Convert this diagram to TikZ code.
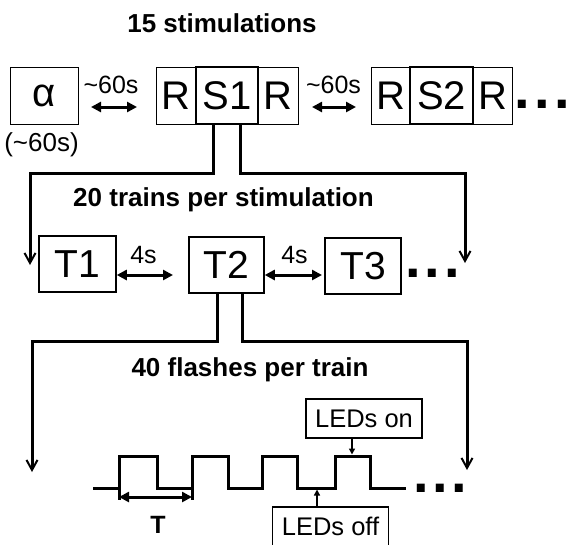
\documentclass[tikz,border=0pt]{standalone}
\usepackage{fontspec}
\setmainfont{Liberation Sans}
\usetikzlibrary{arrows.meta}
\tikzset{
  box/.style={draw, line width=1pt, inner sep=0pt, font=\fontsize{40}{44}\selectfont},
  sbox/.style={line width=1.8pt},
  tbox/.style={draw, line width=1.5pt, inner sep=0pt, minimum width=76pt, minimum height=56pt, font=\fontsize{39}{44}\selectfont},
  ledbox/.style={draw, line width=1.2pt, inner sep=0pt, minimum width=116pt, minimum height=39pt, font=\fontsize{25.5}{30}\selectfont},
  lbl/.style={inner sep=0pt, font=\fontsize{25}{30}\selectfont},
  title/.style={inner sep=0pt, font=\fontsize{26}{30}\selectfont\bfseries},
  conn/.style={line width=3pt, line join=miter},
  downarr/.style={conn, -{Straight Barb[length=10pt,width=11pt,line width=2pt]}},
  dbl/.style={line width=3pt, {Triangle[length=10pt,width=10pt]}-{Triangle[length=10pt,width=10pt]}},
  smallarr/.style={line width=1.5pt, -{Triangle[length=6pt,width=6pt]}},
  dotsnode/.style={inner sep=0pt, anchor=base west, font=\fontsize{56}{60}\selectfont\bfseries},
}
\begin{document}
\begin{tikzpicture}[x=1pt,y=-1pt]
\useasboundingbox (0,0) rectangle (569,544);

% titles
\node[title, anchor=base] (ttl1) at (222,32) {15 stimulations};
\node[title, anchor=base] (ttl2) at (223.5,206) {20 trains per stimulation};
\node[title, anchor=base] (ttl3) at (250,376) {40 flashes per train};

% top row
\node[box, minimum width=68pt, minimum height=57pt] (al) at (44,95.5) {α};
\node[lbl, font=\fontsize{26}{30}\selectfont] (l60c) at (41.5,145) {(\textasciitilde60s)};
\node[box, minimum width=40pt, minimum height=57pt] (r1) at (176,95.5) {R};
\node[box, minimum width=40pt, minimum height=57pt] (r2) at (278,95.5) {R};
\node[box, sbox, minimum width=62pt, minimum height=57pt] (s1) at (227,95.5) {S1};
\node[box, minimum width=39pt, minimum height=57pt] (r3) at (390.5,95.5) {R};
\node[box, minimum width=39pt, minimum height=57pt] (r4) at (492.5,95.5) {R};
\node[box, sbox, minimum width=63pt, minimum height=57pt] (s2) at (441.5,95.5) {S2};
\node[dotsnode] (dots1) at (514,108) {.\kern4.5pt.\kern4.5pt.};

\node[lbl, anchor=base] (l60a) at (111,93) {\textasciitilde60s};
\node[lbl, anchor=base] (l60b) at (333.5,93) {\textasciitilde60s};
\coordinate (a1s) at (91,107);
\coordinate (a1e) at (137,107);
\coordinate (a2s) at (312,107);
\coordinate (a2e) at (356,107);
\draw[dbl] (a1s) -- (a1e);
\draw[dbl] (a2s) -- (a2e);

% connectors from S1
\coordinate (s1L) at (30,265);
\coordinate (s1R) at (465,263);
\draw[downarr] ([xshift=-14pt]s1.south) -- ++(0,49) -| (s1L);
\draw[downarr] ([xshift=13pt]s1.south) -- ++(0,49) -| (s1R);

% train row
\node[tbox, minimum width=77pt] (t1) at (77.5,264) {T1};
\node[tbox, minimum width=75pt] (t2) at (226.5,265) {T2};
\node[tbox] (t3) at (363,266) {T3};
\node[dotsnode] (dots2) at (405,277) {.\kern4pt.\kern4pt.};
\node[lbl, anchor=base] (l4a) at (143.5,263) {4s};
\node[lbl, anchor=base] (l4b) at (294.5,263) {4s};
\coordinate (b1e) at (173,275);
\coordinate (b2e) at (322,275);
\draw[dbl] (t1.east |- b1e) -- (b1e);
\draw[dbl] (t2.east |- b2e) -- (b2e);

% connectors from T2
\coordinate (t2L) at (32,472);
\coordinate (t2R) at (467,470);
\draw[downarr] ([xshift=-9.5pt]t2.south) -- ++(0,48) -| (t2L);
\draw[downarr] ([xshift=15.5pt]t2.south) -- ++(0,48) -| (t2R);

% square wave
\draw[conn] (93,488) -- (119,488) -- (119,456) -- (157,456) -- (157,488)
  -- (192,488) -- (192,456) -- (228,456) -- (228,488)
  -- (262,488) -- (262,456) -- (297,456) -- (297,488)
  -- (335,488) -- (335,456) -- (370,456) -- (370,488) -- (406,488);
\node[dotsnode] (dots3) at (413,492) {.\kern3.5pt.\kern3.5pt.};

% period T
\draw[line width=3pt] (119,488) -- (119,500);
\draw[line width=3pt] (192,488) -- (192,500);
\coordinate (pTs) at (119,497);
\coordinate (pTe) at (192,497);
\draw[dbl] (pTs) -- (pTe);
\node[title, font=\fontsize{25}{30}\selectfont\bfseries, anchor=base] (lT) at (158,533) {T};

% LED labels
\node[ledbox] (on) at (364,418.5) {LEDs on};
\node[ledbox] (off) at (330.5,526.5) {LEDs off};
\coordinate (onP) at (352,454.5);
\coordinate (offP) at (317,489.5);
\draw[smallarr] (on.south -| onP) -- (onP);
\draw[smallarr] (off.north -| offP) -- (offP);
\end{tikzpicture}
\end{document}
